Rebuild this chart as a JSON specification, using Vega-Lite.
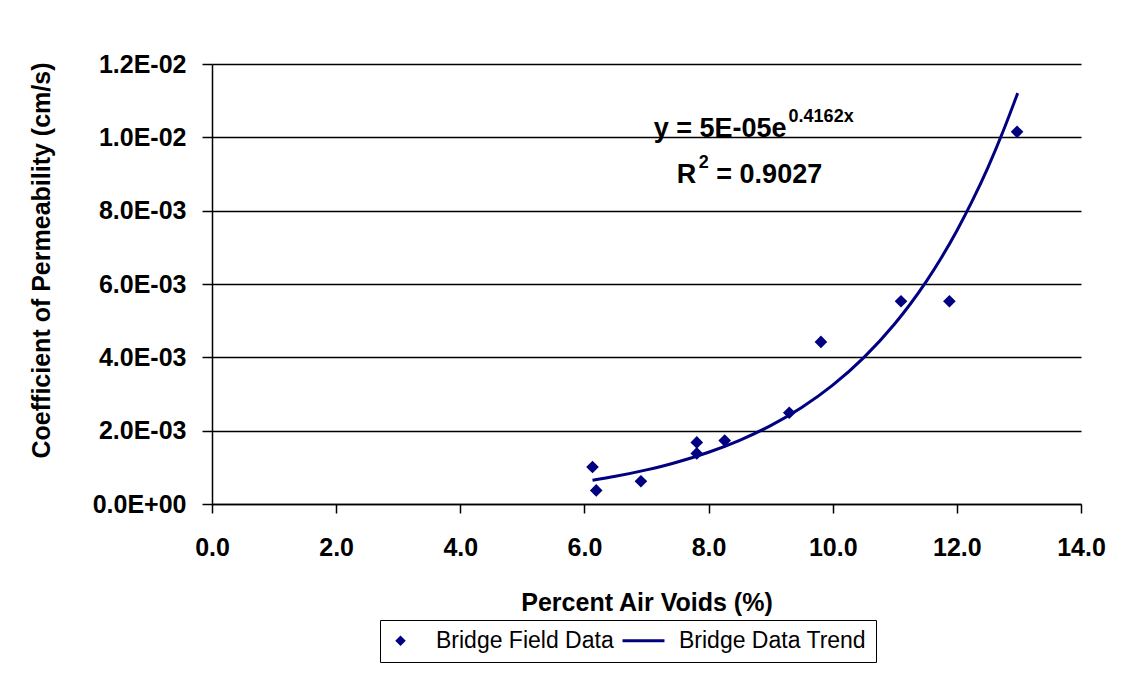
{
  "$schema": "https://vega.github.io/schema/vega-lite/v6.json",
  "width": 869,
  "height": 440,
  "autosize": {"type": "none"},
  "padding": {"left": 212, "top": 64, "right": 53, "bottom": 169},
  "background": "white",
  "config": {"font": "Liberation Sans", "view": {"stroke": null}},
  "datasets": {
    "field": [
      {"voids": 6.13, "k": 0.00101, "series": "Bridge Field Data"},
      {"voids": 6.19, "k": 0.00037, "series": "Bridge Field Data"},
      {"voids": 6.91, "k": 0.00062, "series": "Bridge Field Data"},
      {"voids": 7.81, "k": 0.00168, "series": "Bridge Field Data"},
      {"voids": 7.81, "k": 0.00138, "series": "Bridge Field Data"},
      {"voids": 8.26, "k": 0.00173, "series": "Bridge Field Data"},
      {"voids": 9.30, "k": 0.00249, "series": "Bridge Field Data"},
      {"voids": 9.81, "k": 0.00442, "series": "Bridge Field Data"},
      {"voids": 11.10, "k": 0.00553, "series": "Bridge Field Data"},
      {"voids": 11.88, "k": 0.00553, "series": "Bridge Field Data"},
      {"voids": 12.97, "k": 0.01015, "series": "Bridge Field Data"}
    ],
    "trend": [
      {"voids": 6.13, "k": 0.000648},
      {"voids": 6.5, "k": 0.000755},
      {"voids": 7.0, "k": 0.00093},
      {"voids": 7.5, "k": 0.001145},
      {"voids": 8.0, "k": 0.001411},
      {"voids": 8.5, "k": 0.001737},
      {"voids": 9.0, "k": 0.002139},
      {"voids": 9.5, "k": 0.002634},
      {"voids": 10.0, "k": 0.003243},
      {"voids": 10.5, "k": 0.003993},
      {"voids": 11.0, "k": 0.004916},
      {"voids": 11.25, "k": 0.005454},
      {"voids": 11.5, "k": 0.006053},
      {"voids": 11.75, "k": 0.006717},
      {"voids": 12.0, "k": 0.007454},
      {"voids": 12.25, "k": 0.008272},
      {"voids": 12.5, "k": 0.009176},
      {"voids": 12.75, "k": 0.010186},
      {"voids": 12.98, "k": 0.011206}
    ]
  },
  "encoding": {
    "x": {
      "field": "voids",
      "type": "quantitative",
      "scale": {"domain": [0, 14], "nice": false, "zero": false},
      "axis": {
        "title": "Percent Air Voids (%)",
        "values": [0, 2, 4, 6, 8, 10, 12, 14],
        "format": ".1f",
        "grid": false,
        "domainColor": "black",
        "domainWidth": 1.5,
        "tickColor": "black",
        "tickWidth": 1.5,
        "tickSize": 9,
        "labelFontSize": 25,
        "labelFontWeight": "bold",
        "labelColor": "black",
        "labelPadding": 22,
        "labelFlush": false,
        "titleFontSize": 25,
        "titleFontWeight": "bold",
        "titleColor": "black",
        "titlePadding": 30
      }
    },
    "y": {
      "field": "k",
      "type": "quantitative",
      "scale": {"domain": [0, 0.012], "nice": false, "zero": true},
      "axis": {
        "title": "Coefficient of Permeability (cm/s)",
        "values": [0, 0.002, 0.004, 0.006, 0.008, 0.01, 0.012],
        "labelExpr": "round(datum.value*1000) == 0 ? '0.0E+00' : (round(datum.value*1000) < 10 ? round(datum.value*1000) + '.0E-03' : format(round(datum.value*1000)/10, '.1f') + 'E-02')",
        "grid": true,
        "gridColor": "black",
        "gridWidth": 1.5,
        "gridOpacity": 1,
        "domainColor": "black",
        "domainWidth": 1.5,
        "tickColor": "black",
        "tickWidth": 1.5,
        "tickSize": 10,
        "labelFontSize": 25,
        "labelFontWeight": "bold",
        "labelColor": "black",
        "labelPadding": 16,
        "labelFlush": false,
        "titleFontSize": 25,
        "titleFontWeight": "bold",
        "titleColor": "black",
        "titlePadding": 38,
        "titleY": 196
      }
    }
  },
  "layer": [
    {
      "data": {"name": "trend"},
      "mark": {"type": "line", "color": "#000080", "strokeWidth": 3, "interpolate": "monotone"},
      "encoding": {}
    },
    {
      "data": {"name": "field"},
      "mark": {"type": "point", "filled": true, "color": "#000080", "opacity": 1, "size": 160},
      "encoding": {
        "shape": {
          "field": "series",
          "type": "nominal",
          "scale": {
            "domain": ["Bridge Field Data", "Bridge Data Trend"],
            "range": ["M0,-1L1,0L0,1L-1,0Z", "M-4,-0.27H4V0.27H-4Z"]
          },
          "legend": {
            "title": null,
            "orient": "none",
            "legendX": 168,
            "legendY": 556,
            "direction": "horizontal",
            "labelFontSize": 23,
            "labelColor": "black",
            "labelFont": "Liberation Sans",
            "labelLimit": 400,
            "symbolSize": 110,
            "symbolFillColor": "#000080",
            "symbolStrokeWidth": 0,
            "symbolOpacity": 1,
            "labelOffset": 24,
            "columnPadding": 8,
            "padding": 9,
            "strokeColor": "black",
            "fillColor": "white"
          }
        }
      }
    },
    {
      "data": {"values": [{"t": "y = 5E-05e", "voids": 9.257, "k": 0.010022}]},
      "mark": {"type": "text", "align": "right", "baseline": "alphabetic", "fontSize": 27, "fontWeight": "bold", "color": "black"},
      "encoding": {"text": {"field": "t"}}
    },
    {
      "data": {"values": [{"t": "0.4162x", "voids": 9.289, "k": 0.01043}]},
      "mark": {"type": "text", "align": "left", "baseline": "alphabetic", "fontSize": 18, "fontWeight": "bold", "color": "black"},
      "encoding": {"text": {"field": "t"}}
    },
    {
      "data": {"values": [{"t": "R", "voids": 7.80, "k": 0.008752}]},
      "mark": {"type": "text", "align": "right", "baseline": "alphabetic", "fontSize": 27, "fontWeight": "bold", "color": "black"},
      "encoding": {"text": {"field": "t"}}
    },
    {
      "data": {"values": [{"t": "2", "voids": 7.841, "k": 0.009177}]},
      "mark": {"type": "text", "align": "left", "baseline": "alphabetic", "fontSize": 18, "fontWeight": "bold", "color": "black"},
      "encoding": {"text": {"field": "t"}}
    },
    {
      "data": {"values": [{"t": "= 0.9027", "voids": 8.125, "k": 0.008752}]},
      "mark": {"type": "text", "align": "left", "baseline": "alphabetic", "fontSize": 27, "fontWeight": "bold", "color": "black"},
      "encoding": {"text": {"field": "t"}}
    }
  ]
}
